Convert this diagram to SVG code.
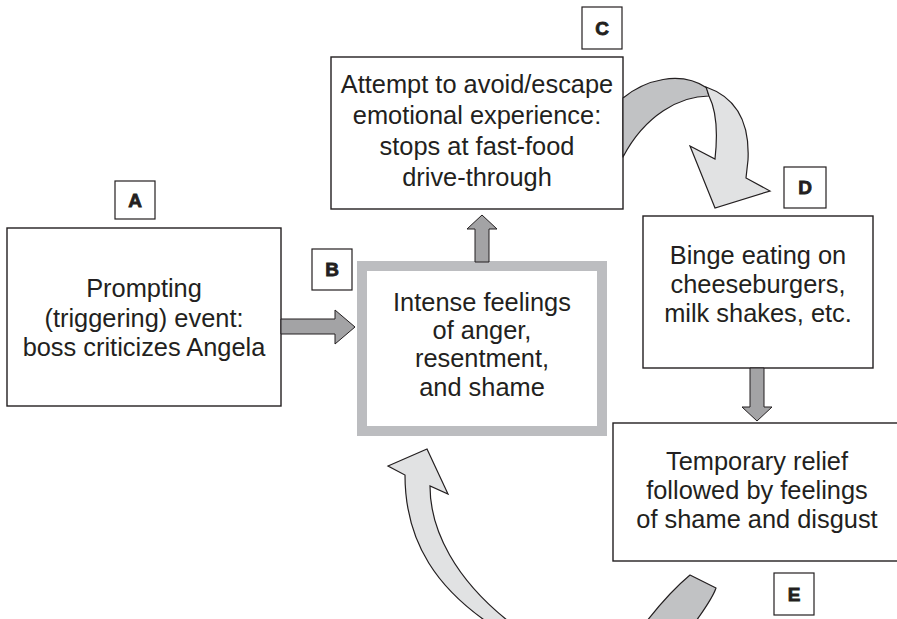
<svg xmlns="http://www.w3.org/2000/svg" width="897" height="619" viewBox="0 0 897 619">
  <style>
    .box { fill: #ffffff; stroke: #231f20; stroke-width: 1.4; }
    .tag { fill: #ffffff; stroke: #231f20; stroke-width: 1.2; }
    .txt { font-family: "Liberation Sans", Arial, Helvetica, sans-serif; font-size: 25.4px; fill: #231f20; text-anchor: middle; }
    .lbl { font-family: "Liberation Sans", Arial, Helvetica, sans-serif; font-size: 19px; font-weight: bold; fill: #231f20; stroke: #231f20; stroke-width: 0.8; text-anchor: middle; }
    .solid { fill: #a3a3a5; stroke: #231f20; stroke-width: 1; stroke-linejoin: miter; }
    .dark { fill: #c1c2c4; stroke: #231f20; stroke-width: 1.2; stroke-linejoin: round; }
    .light { fill: #e1e2e3; stroke: #231f20; stroke-width: 1.2; stroke-linejoin: miter; }
  </style>

  <!-- A: prompting event -->
  <g id="nodeA">
    <rect class="tag" x="115" y="181" width="40" height="38"/>
    <text class="lbl" x="135" y="207">A</text>
    <rect class="box" x="7" y="228" width="274" height="178"/>
    <text class="txt" x="144" y="297">Prompting</text>
    <text class="txt" x="144" y="327">(triggering) event:</text>
    <text class="txt" x="144" y="356">boss criticizes Angela</text>
  </g>

  <!-- B: intense feelings (grey frame) -->
  <g id="nodeB">
    <rect class="tag" x="312" y="249" width="40" height="41"/>
    <text class="lbl" x="332" y="276">B</text>
    <rect x="362" y="266" width="240" height="165" fill="#ffffff" stroke="#bcbdc0" stroke-width="10"/>
    <text class="txt" x="482" y="311">Intense feelings</text>
    <text class="txt" x="482" y="339">of anger,</text>
    <text class="txt" x="482" y="367">resentment,</text>
    <text class="txt" x="482" y="396">and shame</text>
  </g>

  <!-- C: avoidance -->
  <g id="nodeC">
    <rect class="tag" x="582" y="7" width="40" height="42"/>
    <text class="lbl" x="602" y="35">C</text>
    <rect class="box" x="331" y="57" width="292" height="152"/>
    <text class="txt" x="477" y="93">Attempt to avoid/escape</text>
    <text class="txt" x="477" y="124">emotional experience:</text>
    <text class="txt" x="477" y="155">stops at fast-food</text>
    <text class="txt" x="477" y="186">drive-through</text>
  </g>

  <!-- D: binge eating -->
  <g id="nodeD">
    <rect class="tag" x="784" y="167" width="42" height="41"/>
    <text class="lbl" x="805" y="194">D</text>
    <rect class="box" x="643" y="216" width="230" height="152"/>
    <text class="txt" x="758" y="264">Binge eating on</text>
    <text class="txt" x="758" y="293">cheeseburgers,</text>
    <text class="txt" x="758" y="322">milk shakes, etc.</text>
  </g>

  <!-- E: relief then shame -->
  <g id="nodeE">
    <rect class="box" x="613" y="423" width="290" height="138"/>
    <text class="txt" x="757" y="470">Temporary relief</text>
    <text class="txt" x="757" y="499">followed by feelings</text>
    <text class="txt" x="757" y="528">of shame and disgust</text>
    <rect class="tag" x="774" y="573" width="40" height="42"/>
    <text class="lbl" x="794" y="601">E</text>
  </g>

  <!-- connectors -->
  <g id="connectors">
    <!-- A to B -->
    <path class="solid" d="M281,319 L335,319 L335,310 L355,327 L335,344 L335,334 L281,334 Z"/>
    <!-- B up to C -->
    <path class="solid" d="M475,262 L475,229 L467,229 L482,215 L497,229 L489,229 L489,262 Z"/>
    <!-- D down to E -->
    <path class="solid" d="M750,368 L750,407 L742,407 L757,421 L772,407 L764,407 L764,368 Z"/>

    <!-- curved ribbon C to D -->
    <path class="dark" d="M623,98 C645,80 680,70 707,88 L709,96 C680,96 645,115 623,157 Z"/>
    <path class="light" d="M706,87 C735,97 750,120 748,160 L746,178 L770,191 L715,208 L690,146 L715,159 C718,132 716,110 709,96 Z"/>

    <!-- curved ribbon E back to B -->
    <path class="dark" d="M690,575 L716,588 C712,600 702,612 690,630 L640,630 C655,610 672,590 690,575 Z"/>
    <path class="light" d="M427,449 L448,494 L430,486 C430,530 455,580 512,624 L490,624 C440,590 405,545 405,475 L388,466 Z"/>
  </g>
</svg>
